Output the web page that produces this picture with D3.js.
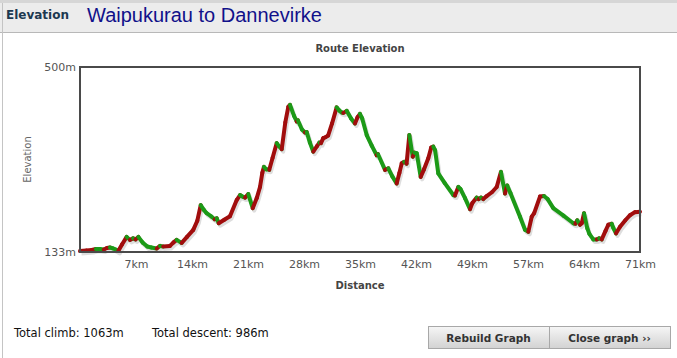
<!DOCTYPE html>
<html>
<head>
<meta charset="utf-8">
<script src="https://cdn.jsdelivr.net/npm/d3@7"></script>
<style>
  body { margin: 0; background: #fff; }
  svg { display: block; }
</style>
</head>
<body>
<div id="chart"></div>
<script>
var width = 677
var height = 358
var margin = { top: 67, right: 37, bottom: 106, left: 80 }

var routeName = 'Waipukurau to Dannevirke'
var totalKm = 70.65
var elevRange = [133, 500]

var distKm = [0, 0.8, 1.5, 2.0, 2.52, 3.0, 3.4, 3.78, 4.2, 4.5, 4.83, 5.3, 5.89, 6.3, 6.7, 7.0, 7.36, 7.9, 8.49, 9.0,
    9.68, 10.09, 10.5, 11.35, 11.8, 12.2, 12.83, 13.5, 14.29, 14.8, 15.23, 15.6, 15.98, 16.6, 17.0, 17.25, 17.5, 18.2, 18.92, 19.77,
    20.19, 20.5, 20.82, 21.23, 21.79, 22.3, 22.71, 23.0, 23.21, 23.5, 23.88, 24.3, 24.82, 25.1, 25.45, 25.9, 26.28, 26.49, 27.0, 27.34,
    27.5, 28.0, 28.39, 28.6, 29.0, 29.43, 29.9, 30.2, 30.4, 30.69, 31.0, 31.3, 31.8, 32.38, 32.7, 33.0, 33.22, 33.65, 34.2, 34.69,
    35.0, 35.32, 35.6, 36.17, 36.8, 37.43, 37.6, 38.48, 38.9, 39.4, 39.95, 40.3, 40.59, 40.9, 41.2, 41.55, 41.98, 42.2, 42.48, 42.98,
    43.4, 43.94, 44.3, 44.57, 44.8, 45.2, 46.0, 47.1, 47.3, 47.73, 48.0, 48.57, 49.2, 49.5, 50.05, 50.3, 50.6, 50.88, 51.31, 52.0,
    52.57, 53.11, 53.62, 53.9, 54.3, 55.51, 56.14, 56.56, 56.99, 57.3, 58.03, 58.54, 59.0, 59.71, 61.0, 62.24, 62.5, 62.74, 63.08, 63.3,
    63.59, 64.0, 64.26, 64.76, 65.2, 65.5, 65.82, 66.3, 66.65, 67.08, 67.3, 67.62, 68.13, 68.8, 69.39, 70.0, 70.65]

var elevM = [135, 136, 137, 139, 139, 138, 141, 142, 140, 138, 135, 148, 163, 157, 160, 158, 163, 152, 144, 142,
    140, 145, 144, 145, 152, 157, 151, 163, 177, 195, 226, 217, 210, 203, 198, 200, 190, 197, 204, 236,
    246, 243, 241, 248, 220, 240, 262, 290, 302, 297, 296, 320, 349, 343, 337, 390, 421, 425, 403, 392,
    394, 376, 370, 371, 350, 332, 343, 350, 349, 359, 361, 364, 388, 420, 414, 410, 409, 413, 398, 388,
    400, 407, 398, 365, 344, 325, 327, 296, 299, 283, 269, 290, 309, 312, 308, 365, 322, 330, 329, 282,
    297, 319, 340, 342, 335, 289, 270, 246, 245, 262, 258, 240, 218, 230, 241, 238, 241, 238, 244, 252,
    262, 292, 249, 265, 250, 203, 177, 173, 203, 210, 243, 244, 238, 220, 205, 190, 189, 196, 187, 190,
    210, 180, 169, 158, 158, 160, 158, 175, 187, 189, 180, 170, 183, 196, 206, 212, 213]

var totalClimb = 1063
var totalDescent = 986

var climbColor = '#a10d0d'
var descentColor = '#1c9a17'

var svg = d3.select('#chart').append('svg')
    .attr('width', width)
    .attr('height', height)

// window header
svg.append('rect').attr('x', 0).attr('y', 0).attr('width', width).attr('height', 33).attr('fill', '#ececec')
svg.append('rect').attr('x', 0).attr('y', 0).attr('width', width).attr('height', 3).attr('fill', '#d6d6d6')
svg.append('line').attr('x1', 0).attr('x2', width).attr('y1', 32.5).attr('y2', 32.5).attr('stroke', '#b8b8b8')
svg.append('line').attr('x1', 2.5).attr('x2', 2.5).attr('y1', 3).attr('y2', height).attr('stroke', '#c4c4c4')

svg.append('text')
    .attr('x', 6).attr('y', 19)
    .style('font-family', 'DejaVu Sans, Verdana, sans-serif')
    .style('font-size', '12px')
    .style('font-weight', 'bold')
    .attr('fill', '#1d3950')
    .text('Elevation')

svg.append('text')
    .attr('x', 87).attr('y', 22)
    .style('font-family', 'Liberation Sans, Arial, sans-serif')
    .style('font-size', '20px')
    .attr('fill', '#11118a')
    .text(routeName)

var plotW = width - margin.left - margin.right
var plotH = height - margin.top - margin.bottom

var x = d3.scaleLinear().domain([0, totalKm]).range([margin.left, margin.left + plotW])
var y = d3.scaleLinear().domain(elevRange).range([margin.top + plotH, margin.top])

var labelFont = 'DejaVu Sans, Verdana, sans-serif'

svg.append('text')
    .attr('x', margin.left + plotW / 2).attr('y', 52)
    .attr('text-anchor', 'middle')
    .style('font-family', labelFont)
    .style('font-size', '10px')
    .style('font-weight', 'bold')
    .attr('fill', '#444')
    .text('Route Elevation')

// axes
var xAxis = svg.append('g')
    .attr('transform', 'translate(0,' + (margin.top + plotH) + ')')
    .call(d3.axisBottom(x)
        .tickValues(d3.range(1, 11).map(i => totalKm * i / 10))
        .tickFormat(d => Math.round(d) + 'km')
        .tickSize(0).tickPadding(8))
xAxis.select('.domain').remove()
xAxis.selectAll('text')
    .style('font-family', labelFont)
    .style('font-size', '11px')
    .attr('fill', '#555')

var yAxis = svg.append('g')
    .attr('transform', 'translate(' + margin.left + ',0)')
    .call(d3.axisLeft(y)
        .tickValues(elevRange)
        .tickFormat(d => d + 'm')
        .tickSize(0).tickPadding(4))
yAxis.select('.domain').remove()
yAxis.selectAll('text')
    .style('font-family', labelFont)
    .style('font-size', '11px')
    .attr('fill', '#555')

svg.append('text')
    .attr('transform', 'translate(31,' + (margin.top + plotH / 2) + ') rotate(-90)')
    .attr('text-anchor', 'middle')
    .style('font-family', labelFont)
    .style('font-size', '10px')
    .attr('fill', '#666')
    .text('Elevation')

svg.append('text')
    .attr('x', margin.left + plotW / 2).attr('y', 289)
    .attr('text-anchor', 'middle')
    .style('font-family', labelFont)
    .style('font-size', '10px')
    .style('font-weight', 'bold')
    .attr('fill', '#444')
    .text('Distance')

// profile
var points = distKm.map((d, i) => ({ km: d, m: elevM[i] }))
var line = d3.line().x(d => x(d.km)).y(d => y(d.m))

svg.append('path')
    .datum(points)
    .attr('d', line)
    .attr('transform', 'translate(1.5,2.5)')
    .attr('fill', 'none')
    .attr('stroke', '#000')
    .attr('stroke-opacity', 0.13)
    .attr('stroke-width', 4)
    .attr('stroke-linejoin', 'round')

var segs = d3.pairs(points)
svg.append('g').selectAll('line')
    .data(segs)
    .enter()
    .append('line')
    .attr('x1', d => x(d[0].km))
    .attr('y1', d => y(d[0].m))
    .attr('x2', d => x(d[1].km))
    .attr('y2', d => y(d[1].m))
    .attr('stroke', d => d[1].m > d[0].m ? climbColor : descentColor)
    .attr('stroke-width', 4)
    .attr('stroke-linecap', 'round')

// frame
svg.append('rect')
    .attr('x', margin.left).attr('y', margin.top)
    .attr('width', plotW).attr('height', plotH)
    .attr('fill', 'none')
    .attr('stroke', '#4a4a4a')
    .attr('stroke-width', 2)

// totals
var footFont = 'DejaVu Sans, Verdana, sans-serif'
svg.append('text').attr('x', 14).attr('y', 337)
    .style('font-family', footFont).style('font-size', '11.5px').attr('fill', '#111')
    .text('Total climb: ' + totalClimb + 'm')
svg.append('text').attr('x', 152).attr('y', 337)
    .style('font-family', footFont).style('font-size', '11.5px').attr('fill', '#111')
    .text('Total descent: ' + totalDescent + 'm')

// buttons
var defs = svg.append('defs')
var grad = defs.append('linearGradient').attr('id', 'btn').attr('x1', 0).attr('x2', 0).attr('y1', 0).attr('y2', 1)
grad.append('stop').attr('offset', '0%').attr('stop-color', '#f6f6f6')
grad.append('stop').attr('offset', '100%').attr('stop-color', '#d2d2d2')

var buttons = [
    { label: 'Rebuild Graph', x: 428, w: 121 },
    { label: 'Close graph \u203a\u203a', x: 549, w: 121 }
]
var btn = svg.selectAll('.btn').data(buttons).enter().append('g').attr('class', 'btn')
btn.append('rect')
    .attr('x', d => d.x + 0.5).attr('y', 326.5)
    .attr('width', d => d.w).attr('height', 22)
    .attr('fill', 'url(#btn)')
    .attr('stroke', '#a8a8a8')
btn.append('text')
    .attr('x', d => d.x + d.w / 2).attr('y', 342)
    .attr('text-anchor', 'middle')
    .style('font-family', footFont).style('font-size', '10.5px').style('font-weight', 'bold')
    .attr('fill', '#333')
    .text(d => d.label)
</script>
</body>
</html>
